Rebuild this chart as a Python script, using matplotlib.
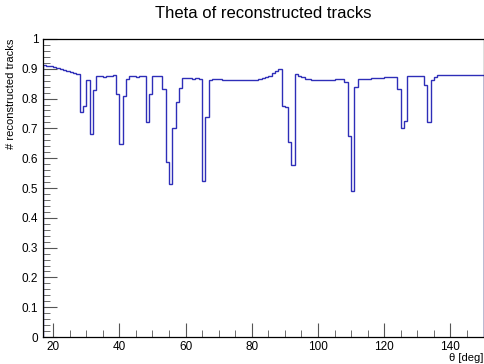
import numpy as np
import matplotlib
matplotlib.use("Agg")
import matplotlib.pyplot as plt
from matplotlib.ticker import MultipleLocator

plt.rcParams['font.family'] = ['Liberation Sans', 'DejaVu Sans']

# 1 deg bins from 17 to 150
bin_edges = np.arange(17, 151, 1)
eff = [
    0.912, 0.910, 0.908, 0.906, 0.903, 0.900, 0.897, 0.893, 0.889, 0.886,  # 17-26
    0.882, 0.754, 0.776, 0.861, 0.680, 0.828, 0.877, 0.875, 0.874, 0.876,  # 27-36
    0.876, 0.879, 0.814, 0.647, 0.808, 0.864, 0.877, 0.877, 0.873, 0.877,  # 37-46
    0.877, 0.720, 0.817, 0.875, 0.875, 0.875, 0.832, 0.588, 0.512, 0.700,  # 47-56
    0.787, 0.837, 0.868, 0.868, 0.868, 0.866, 0.868, 0.864, 0.523, 0.738,  # 57-66
    0.861, 0.866, 0.866, 0.864, 0.863, 0.862, 0.862, 0.862, 0.862, 0.862,  # 67-76
    0.862, 0.862, 0.862, 0.862, 0.863, 0.865, 0.869, 0.871, 0.877, 0.885,  # 77-86
    0.891, 0.898, 0.775, 0.772, 0.654, 0.576, 0.881, 0.876, 0.871, 0.867,  # 87-96
    0.867, 0.862, 0.862, 0.862, 0.862, 0.862, 0.862, 0.862, 0.865, 0.865,  # 97-106
    0.865, 0.855, 0.674, 0.491, 0.838, 0.867, 0.867, 0.867, 0.867, 0.869,  # 107-116
    0.869, 0.869, 0.869, 0.871, 0.871, 0.871, 0.871, 0.831, 0.701, 0.726,  # 117-126
    0.876, 0.876, 0.876, 0.876, 0.876, 0.846, 0.721, 0.862, 0.873, 0.878,  # 127-136
    0.878, 0.878, 0.878, 0.878, 0.878, 0.878, 0.878, 0.878, 0.878, 0.878,  # 137-146
    0.878, 0.878, 0.878,                                                   # 147-149
]

fig = plt.figure(figsize=(4.85, 3.64), dpi=100)
ax = fig.add_axes([0.089, 0.074, 0.908, 0.819])

ax.stairs(eff, bin_edges, color='#2e2eb8', lw=1.0)

ax.set_xlim(17, 150)
ax.set_ylim(0, 1)
ax.xaxis.set_major_locator(MultipleLocator(20))
ax.xaxis.set_minor_locator(MultipleLocator(5))
ax.yaxis.set_major_locator(MultipleLocator(0.1))
ax.yaxis.set_minor_locator(MultipleLocator(0.02))
ax.set_yticks(np.arange(0, 1.01, 0.1))
ax.set_yticklabels(['0', '0.1', '0.2', '0.3', '0.4', '0.5', '0.6', '0.7', '0.8', '0.9', '1'])
ax.tick_params(which='both', direction='in', top=False, right=False, labelsize=8.5, color='#555555')
ax.tick_params(which='major', length=10)
ax.tick_params(which='minor', length=5)
ax.tick_params(axis='x', pad=3)
for s in ax.spines.values():
    s.set_linewidth(0.9)

ax.set_title('Theta of reconstructed tracks', fontsize=12, pad=15)
ax.set_xlabel('θ [deg]', fontsize=8, loc='right', labelpad=0)
ax.set_ylabel('# reconstructed tracks', fontsize=8, loc='top', labelpad=4)

fig.savefig('out.png', dpi=100)
